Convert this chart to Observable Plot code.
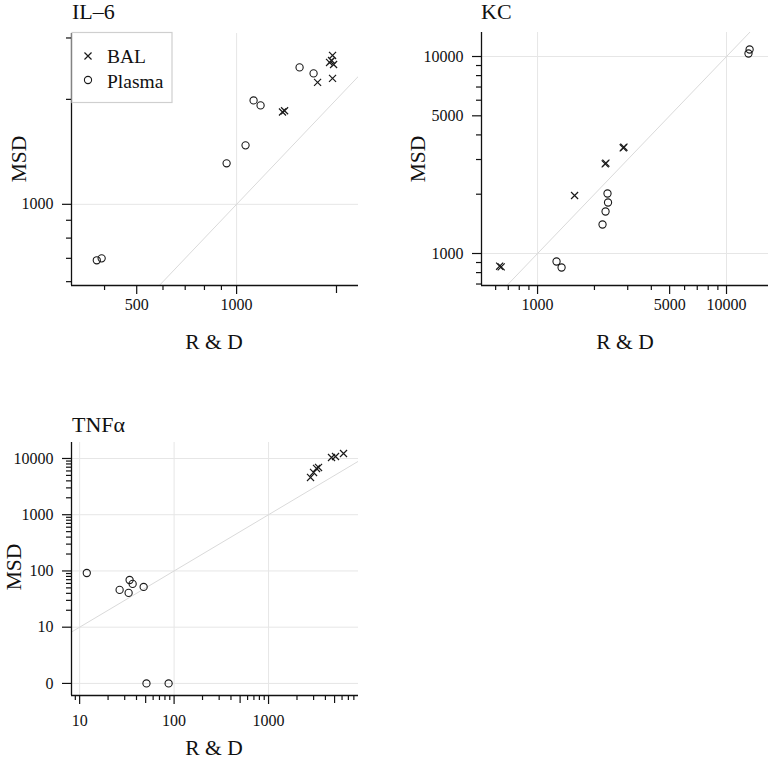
<!DOCTYPE html>
<html><head><meta charset="utf-8">
<script src="https://cdn.jsdelivr.net/npm/d3@7"></script>
<script src="https://cdn.jsdelivr.net/npm/@observablehq/plot@0.6"></script>
<style>
body{margin:0;background:#fff;}
#wrap{position:relative;width:769px;height:760px;overflow:hidden;font-family:"Liberation Serif","Times New Roman",serif;}
.panel{position:absolute;}
.panel svg text{font-family:"Liberation Serif","Times New Roman",serif !important;font-size:16px !important;fill:#111;}
svg.overlay{position:absolute;left:0;top:0;pointer-events:none;}
</style></head><body><div id="wrap"></div>
<script>
// ---------- data (R & D vs MSD) ----------
const il6BalRD      = [1375, 1395, 1754, 1946, 1906, 1933, 1960, 1946];
const il6BalMSD     = [1840, 1855, 2237, 2297, 2552, 2585, 2518, 2673];
const il6PlasmaRD   = [379, 392, 933, 1064, 1125, 1181, 1548, 1706];
const il6PlasmaMSD  = [691, 700, 1311, 1476, 1986, 1922, 2470, 2374];

const kcBalRD       = [630, 642, 1570, 2280, 2300, 2840, 2865];
const kcBalMSD      = [862, 855, 1970, 2850, 2875, 3440, 3465];
const kcPlasmaRD    = [1260, 1340, 2345, 2360, 2290, 2207, 13070, 13250];
const kcPlasmaMSD   = [911, 849, 2017, 1815, 1634, 1404, 10356, 10853];

const tnfBalRD      = [2782, 2994, 3220, 3382, 4642, 5117, 6220];
const tnfBalMSD     = [4598, 5640, 6644, 6920, 10417, 10852, 12270];
const tnfPlasmaRD   = [11.9, 26.5, 33, 33.8, 36.4, 47.6, 51, 87.5];
const tnfPlasmaMSD  = [92, 46, 40.7, 69, 58.8, 52, 0, 0];

// ---------- tick labels ----------
const il6XTicks = [500, 1000];           const il6XTickLabels = ["500", "1000"];
const il6YTicks = [1000];                const il6YTickLabels = ["1000"];
const kcXTicks  = [1000, 5000, 10000];   const kcXTickLabels  = ["1000", "5000", "10000"];
const kcYTicks  = [1000, 5000, 10000];   const kcYTickLabels  = ["1000", "5000", "10000"];
const tnfXTicks = [10, 100, 1000];       const tnfXTickLabels = ["10", "100", "1000"];
const tnfYTicks = [1, 10, 100, 1000, 10000]; const tnfYTickLabels = ["0", "10", "100", "1000", "10000"];

const titles = ["IL\u20136", "KC", "TNF\u03b1"];
const seriesNames = ["BAL", "Plasma"];

function pts(rd, msd) { return rd.map((r, i) => ({rd: r, msd: msd[i]})); }
function minorTicks(lo, hi, exclude) {
  const out = [];
  for (let p = Math.floor(Math.log10(lo)); p <= Math.ceil(Math.log10(hi)); p++) {
    for (let m = 1; m <= 9; m++) {
      const v = m * Math.pow(10, p);
      if (v >= lo && v <= hi && !exclude.includes(v)) out.push(v);
    }
  }
  return out;
}

const wrap = document.getElementById("wrap");
const SERIF = "Liberation Serif, Times New Roman, serif";

function panel(cfg) {
  const lab = (ticks, labels) => d => { const i = ticks.indexOf(d); return i < 0 ? "" : labels[i]; };
  const diag = [Math.min(cfg.xDomain[0], cfg.yDomain[0]) / 2, Math.max(cfg.xDomain[1], cfg.yDomain[1]) * 2];
  const xMinor = minorTicks(cfg.xDomain[0], cfg.xDomain[1], cfg.xTicks.concat(cfg.xLong));
  const yMinor = minorTicks(cfg.yDomain[0], cfg.yDomain[1], cfg.yTicks).filter(v => v >= (cfg.yMinorFrom || 0));
  const ink = "#1a1a1a";
  const blank = () => "";
  const chart = Plot.plot({
    width: cfg.width, height: cfg.height,
    marginTop: cfg.mt, marginRight: cfg.mr, marginBottom: cfg.mb, marginLeft: cfg.ml,
    style: {background: "transparent", color: "#111", overflow: "visible", fontFamily: SERIF, fontSize: "16px"},
    x: {type: "log", domain: cfg.xDomain, axis: null},
    y: {type: "log", domain: cfg.yDomain, axis: null},
    marks: [
      Plot.ruleX(cfg.xGrid, {stroke: "#e6e6e6", strokeWidth: 1}),
      Plot.ruleY(cfg.yGrid, {stroke: "#e6e6e6", strokeWidth: 1}),
      Plot.line(diag, {x: d => d, y: d => d, stroke: "#dadada", strokeWidth: 1, clip: true}),
      Plot.ruleX([cfg.xDomain[0]], {stroke: "#111", strokeWidth: 1.3}),
      Plot.ruleY([cfg.yDomain[0]], {stroke: "#111", strokeWidth: 1.3}),
      Plot.axisX(cfg.xTicks, {tickSize: 9, tickPadding: cfg.xPad, text: lab(cfg.xTicks, cfg.xLabels), label: null, strokeWidth: 1.2, fontFamily: SERIF, fontSize: 16}),
      Plot.axisX(cfg.xLong, {tickSize: 8, text: blank, label: null, strokeWidth: 1.2}),
      Plot.axisX(xMinor, {tickSize: 5, text: blank, label: null, strokeWidth: 1.2}),
      Plot.axisY(cfg.yTicks, {tickSize: 9, tickPadding: 9, text: lab(cfg.yTicks, cfg.yLabels), label: null, strokeWidth: 1.2, fontFamily: SERIF, fontSize: 16}),
      Plot.axisY(yMinor, {tickSize: 5, text: blank, label: null, strokeWidth: 1.2}),
      Plot.dot(cfg.plasma, {x: "rd", y: d => d.msd === 0 ? 1 : d.msd, symbol: "circle", r: 3.6, stroke: ink, strokeWidth: 1.1, fill: "none"}),
      Plot.dot(cfg.bal, {x: "rd", y: d => d.msd === 0 ? 1 : d.msd, symbol: "times", r: 3.3, stroke: ink, strokeWidth: 1.2})
    ]
  });
  const div = document.createElement("div");
  div.className = "panel";
  div.style.left = cfg.left + "px";
  div.style.top = cfg.top + "px";
  div.appendChild(chart);
  wrap.appendChild(div);
}

panel({
  left: 0, top: 0, width: 384, height: 370, mt: 33, mr: 26, mb: 85, ml: 71,
  xDomain: [318, 2330], yDomain: [585, 3090],
  xTicks: il6XTicks, xLabels: il6XTickLabels, xLong: [2000], xPad: 4,
  yTicks: il6YTicks, yLabels: il6YTickLabels,
  xGrid: [1000], yGrid: [1000],
  bal: pts(il6BalRD, il6BalMSD), plasma: pts(il6PlasmaRD, il6PlasmaMSD)
});
panel({
  left: 384, top: 0, width: 385, height: 370, mt: 32, mr: 1, mb: 85, ml: 97,
  xDomain: [505, 16680], yDomain: [688, 13240],
  xTicks: kcXTicks, xLabels: kcXTickLabels, xLong: [], xPad: 4,
  yTicks: kcYTicks, yLabels: kcYTickLabels,
  xGrid: [1000, 10000], yGrid: [1000, 10000],
  bal: pts(kcBalRD, kcBalMSD), plasma: pts(kcPlasmaRD, kcPlasmaMSD)
});
panel({
  left: 0, top: 380, width: 384, height: 380, mt: 62, mr: 26, mb: 65, ml: 71,
  xDomain: [8.2, 8960], yDomain: [0.61, 19240],
  xTicks: tnfXTicks, xLabels: tnfXTickLabels, xLong: [50, 500, 5000], xPad: 10,
  yTicks: tnfYTicks, yLabels: tnfYTickLabels, yMinorFrom: 10,
  xGrid: [10, 100, 1000], yGrid: [1, 10, 100, 1000, 10000],
  bal: pts(tnfBalRD, tnfBalMSD), plasma: pts(tnfPlasmaRD, tnfPlasmaMSD)
});

// ---------- overlay: titles, axis labels, legend ----------
const ov = d3.select(wrap).append("svg").attr("class", "overlay").attr("width", 769).attr("height", 760)
  .style("font-family", "'Liberation Serif', 'Times New Roman', serif").attr("fill", "#111");
const titlePos = [[72, 19], [481, 19], [72, 432]];
titles.forEach((t, i) => ov.append("text").attr("x", titlePos[i][0]).attr("y", titlePos[i][1]).attr("font-size", 22).text(t));
const xLabPos = [[214, 349], [625, 349], [214, 755]];
xLabPos.forEach(p => ov.append("text").attr("x", p[0]).attr("y", p[1]).attr("font-size", 21.5).attr("text-anchor", "middle").text("R & D"));
const yLabPos = [[26, 159], [425, 159], [21, 567]];
yLabPos.forEach(p => ov.append("text").attr("transform", `translate(${p[0]},${p[1]}) rotate(-90)`).attr("font-size", 21.5).attr("text-anchor", "middle").text("MSD"));

const lg = ov.append("g");
lg.append("rect").attr("x", 72).attr("y", 32.5).attr("width", 100).attr("height", 70).attr("fill", "white").attr("stroke", "#cfcfcf").attr("stroke-width", 1.2);
lg.append("path").attr("d", d3.symbol(d3.symbolTimes, Math.PI * 3.3 * 3.3)()).attr("transform", "translate(88,56)").attr("stroke", "#1a1a1a").attr("stroke-width", 1.2).attr("fill", "none");
lg.append("circle").attr("cx", 88).attr("cy", 80).attr("r", 3.6).attr("stroke", "#1a1a1a").attr("stroke-width", 1.1).attr("fill", "none");
lg.append("text").attr("x", 107).attr("y", 63).attr("font-size", 19.5).text(seriesNames[0]);
lg.append("text").attr("x", 107).attr("y", 88).attr("font-size", 19.5).text(seriesNames[1]);
</script>
</body></html>
